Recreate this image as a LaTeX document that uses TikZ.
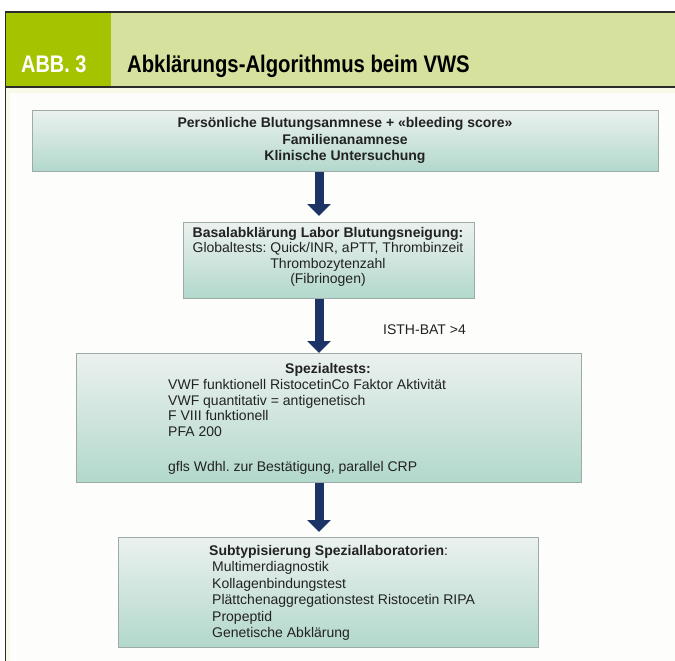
\documentclass[tikz,border=0pt]{standalone}
\usepackage{fontspec}
\setmainfont{Liberation Sans}
\usetikzlibrary{arrows.meta}
\frenchspacing
\definecolor{hdrgreen}{HTML}{A6C300}
\definecolor{hdrlight}{HTML}{D6E19E}
\definecolor{boxtop}{HTML}{EBF1EE}
\definecolor{boxbot}{HTML}{B2D8CC}
\definecolor{boxline}{HTML}{9DAAA5}
\definecolor{navy}{HTML}{1C3366}
\definecolor{txt}{HTML}{222222}
\definecolor{cream}{HTML}{F8F9E8}
\definecolor{inner}{HTML}{FDFDFB}
\definecolor{frameline}{HTML}{2B2B2B}
\tikzset{
  box/.style={draw=boxline, line width=1.2pt, top color=boxtop, bottom color=boxbot,
    rectangle, anchor=north west, inner sep=0pt},
  tx/.style={font=\fontsize{14}{16}\selectfont, text=txt, inner sep=0pt, anchor=base},
  txb/.style={tx, font=\fontsize{14}{16}\selectfont\bfseries},
  txl/.style={tx, anchor=base west},
  arr/.style={draw=navy, line width=9pt, -{Triangle[width=23pt,length=12pt]}},
  hdr/.style={font=\fontsize{24}{27}\selectfont\bfseries, inner sep=0pt, anchor=base west}
}
\begin{document}
\begin{tikzpicture}[x=1pt,y=-1pt]
\useasboundingbox (0,0) rectangle (675,661);
\fill[white] (0,0) rectangle (675,661);
% content background
\fill[cream] (5,87) rectangle (675,661);
\fill[inner] (10,93) rectangle (675,661);
% header
\fill[hdrlight] (5,12) rectangle (675,87);
\fill[hdrgreen] (5,12) rectangle (111,87);
\draw[frameline, line width=1.2pt] (5,12) -- (675,12);
\draw[frameline, line width=1.2pt] (5,87) -- (675,87);
\draw[frameline, line width=1.2pt] (5.6,12) -- (5.6,661);
\node[hdr, text=white] (abb) at (21,72.5) {\scalebox{0.83}[1]{ABB. 3}};
\node[hdr, text=black] (title) at (127,72.5) {\scalebox{0.845}[1]{Abklärungs-Algorithmus beim VWS}};
% boxes
\node[box, minimum width=626pt, minimum height=61pt] (b1) at (32,110) {};
\node[box, minimum width=291pt, minimum height=76pt] (b2) at (183,222) {};
\node[box, minimum width=505pt, minimum height=129pt] (b3) at (76,353) {};
\node[box, minimum width=420pt, minimum height=110pt] (b4) at (118,537) {};
% box 1 text
\node[txb] (t11) at (345,128) {Persönliche Blutungsanmnese + «bleeding score»};
\node[txb] (t12) at (345,144) {Familienanamnese};
\node[txb] (t13) at (345,160) {Klinische Untersuchung};
% box 2 text
\node[txb] (t21) at (328,237) {Basalabklärung Labor Blutungsneigung:};
\node[tx] (t22) at (328,252.5) {Globaltests: Quick/INR, aPTT, Thrombinzeit};
\node[tx] (t23) at (328,268) {Thrombozytenzahl};
\node[tx] (t24) at (328,283.5) {(Fibrinogen)};
% label
\node[txl] (isth) at (383,334) {ISTH-BAT >4};
% box 3 text
\node[txb] (t31) at (328,373) {Spezialtests:};
\node[txl] (t32) at (168,389.5) {VWF funktionell RistocetinCo Faktor Aktivität};
\node[txl] (t33) at (168,405) {VWF quantitativ = antigenetisch};
\node[txl] (t34) at (168,420.5) {F VIII funktionell};
\node[txl] (t35) at (168,436) {PFA 200};
\node[txl] (t36) at (168,471) {gfls Wdhl. zur Bestätigung, parallel CRP};
% box 4 text
\node[txl] (t41) at (209,555) {\textbf{Subtypisierung Speziallaboratorien}:};
\node[txl] (t42) at (212,571.5) {Multimerdiagnostik};
\node[txl] (t43) at (212,588) {Kollagenbindungstest};
\node[txl] (t44) at (212,604.5) {Plättchenaggregationstest Ristocetin RIPA};
\node[txl] (t45) at (212,621) {Propeptid};
\node[txl] (t46) at (212,637.5) {Genetische Abklärung};
% arrows
\coordinate (ax) at (319,0);
\draw[arr, shorten >=6pt] (b1.south -| ax) -- (b2.north -| ax);
\draw[arr] (b2.south -| ax) -- (b3.north -| ax);
\draw[arr, shorten >=5pt] (b3.south -| ax) -- (b4.north -| ax);
\end{tikzpicture}
\end{document}
